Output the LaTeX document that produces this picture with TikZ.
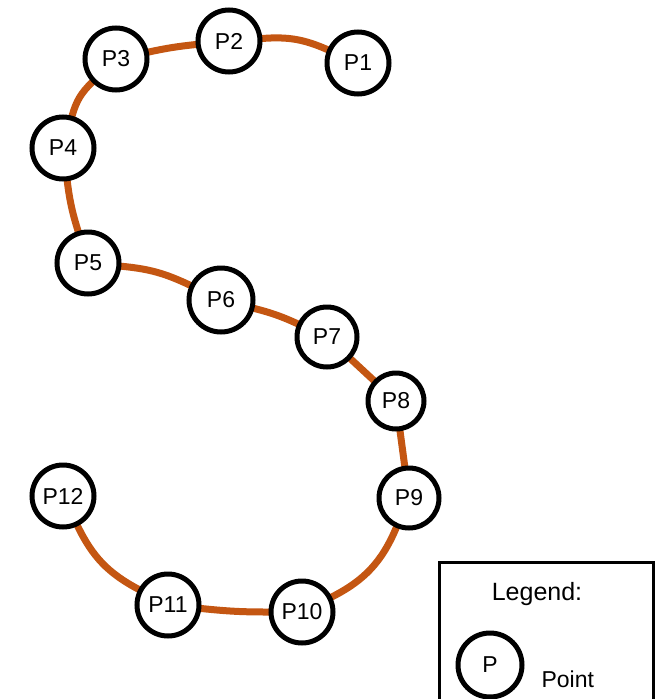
\documentclass[tikz,border=0pt]{standalone}
\usepackage{fontspec}
\setmainfont{Liberation Sans}
\usetikzlibrary{backgrounds}
\definecolor{pathorange}{RGB}{196,86,18}
\begin{document}
\begin{tikzpicture}[x=1pt,y=-1pt,
  pt/.style={circle,draw=black,line width=5pt,fill=white,minimum size=62pt,inner sep=0pt,font=\fontsize{23}{27}\selectfont},
  link/.style={draw=pathorange,line width=7pt,line cap=round},
  legbox/.style={draw=black,line width=3pt,fill=white}]
\useasboundingbox (0,0) rectangle (656,699);
\node[pt] (p1) at (358,63) {P1};
\node[pt] (p2) at (229,41) {P2};
\node[pt] (p3) at (116,59) {P3};
\node[pt] (p4) at (63,148) {P4};
\node[pt] (p5) at (88,263) {P5};
\node[pt,minimum size=64pt] (p6) at (221,300) {P6};
\node[pt,minimum size=60pt] (p7) at (327,337) {P7};
\node[pt,minimum size=56pt] (p8) at (396,401) {P8};
\node[pt,minimum size=60pt] (p9) at (409,498) {P9};
\node[pt] (p10) at (302,612) {P10};
\node[pt] (p11) at (168,605) {P11};
\node[pt] (p12) at (63,496) {P12};
\begin{scope}[on background layer]
\draw[link] (p1) to[bend right=14] (p2);
\draw[link] (p2) to[bend right=3] (p3);
\draw[link] (p3) to[bend right=15] (p4);
\draw[link] (p4) to[bend right=5] (p5);
\draw[link] (p5) to[bend left=10] (p6);
\draw[link] (p6) to[bend left=5] (p7);
\draw[link] (p7) -- (p8);
\draw[link] (p8) -- (p9);
\draw[link] (p9) to[bend left=20] (p10);
\draw[link] (p10) to[bend left=3] (p11);
\draw[link] (p11) to[bend left=18] (p12);
\end{scope}
\node[legbox,anchor=north west,minimum width=214pt,minimum height=150pt,inner sep=0pt] (leg) at (438,561) {};
\node[font=\fontsize{25}{30}\selectfont,anchor=base] (legtitle) at (537,600) {Legend:};
\node[pt,minimum size=64pt,font=\fontsize{23}{27}\selectfont] (legp) at (490,665) {P};
\node[font=\fontsize{23}{28}\selectfont,anchor=base west] (legtext) at (538,687) {Point};
\end{tikzpicture}
\end{document}
